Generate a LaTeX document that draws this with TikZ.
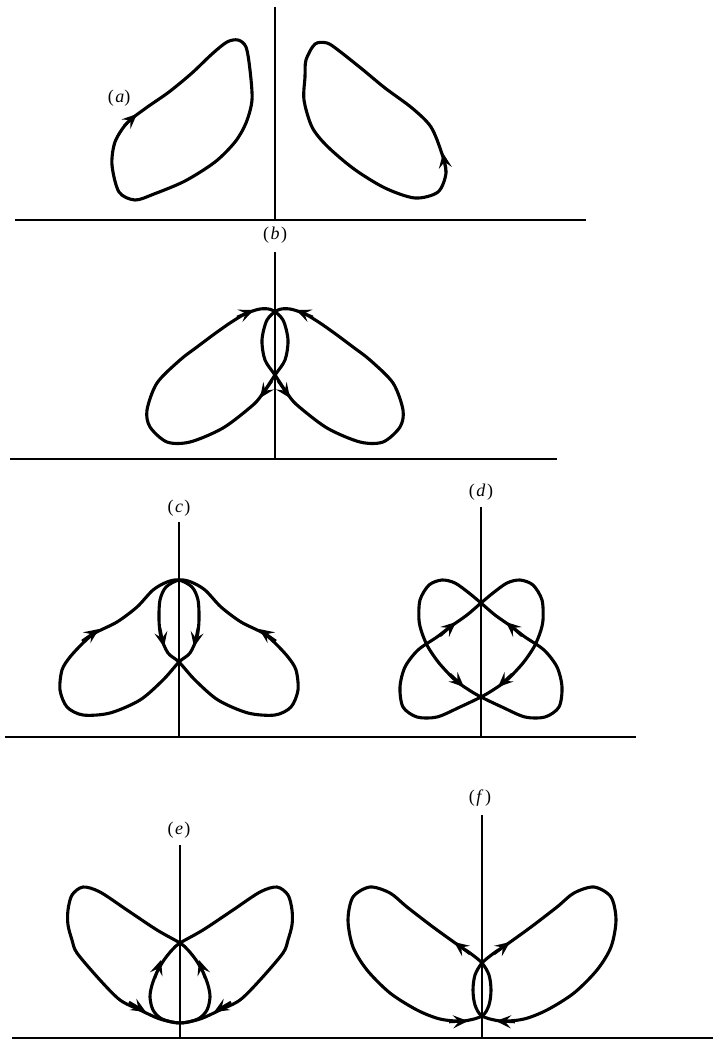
\documentclass[tikz,border=0pt]{standalone}
\usepackage{fontspec}
\setmainfont{Liberation Serif}
\usetikzlibrary{arrows.meta}
\begin{document}
\begin{tikzpicture}[x=1pt,y=-1pt,
  curve/.style={line width=3.1pt, line join=round},
  axis/.style={line width=1.6pt},
  base/.style={line width=2.2pt},
  arr/.style={line width=2.6pt, -{Stealth[length=15pt,width=13pt,inset=6pt]}},
  lab/.style={font=\fontsize{18}{20}\selectfont, inner sep=0pt}]
\useasboundingbox (0,0) rectangle (713,1044);
% ---------- (a)
\draw[base] (15,220) -- (586,220);
\draw[axis] (275,7) -- (275,220);
\draw[curve] plot[smooth cycle] coordinates {(135,200) (119,192) (112,165) (115,142) (127,123) (146,108) (169,92) (192,73) (212,54) (227,42) (238,40) (246,47) (250,70) (252,100) (246,123) (235,142) (215,162) (185,181) (154,194)};
\draw[curve] plot[smooth cycle] coordinates {(315,44) (306,60) (305,77) (304,100) (312,127) (327,146) (354,169) (385,188) (415,198) (438,192) (446,173) (442,154) (431,127) (412,108) (385,88) (362,69) (338,50) (327,43)};
\draw[arr] (124,126) -- (137,114);
\draw[arr] (446,172) -- (443,153);
\node[lab] (la) at (119,98) {(\kern1.5pt\textit{a})};
% ---------- (b)
\draw[base] (10,459) -- (557,459);
\draw[axis] (275,252) -- (275,459);
\foreach \s in {1,-1}{\begin{scope}[shift={(275,0)},xscale=\s]
 \draw[curve] plot[smooth cycle] coordinates {(0,375) (-12,393) (-22,405) (-52,428) (-85,442) (-108,442) (-125,427) (-128,410) (-118,383) (-95,360) (-78,347) (-62,335) (-45,323) (-30,314) (-15,309) (-3,310) (8,320) (13,340) (10,360)};
 \draw[arr] (-38,317) -- (-21,310);
 \draw[arr] (-3,381) -- (-15,398);
\end{scope}}
\node[lab] (lb) at (275,235) {(\kern1.5pt\textit{b}\kern1.5pt)};
% ---------- (c)
\draw[base] (5,737) -- (636,737);
\draw[axis] (179,522) -- (179,737);
\foreach \s in {1,-1}{\begin{scope}[shift={(179,0)},xscale=\s]
 \draw[curve] plot[smooth cycle] coordinates {(0,662) (-16,680) (-39,700) (-69,713) (-96,715) (-112,707) (-119,690) (-117,670) (-109,657) (-96,643) (-84,633) (-62,622) (-42,607) (-26,590) (-12,582) (0,580) (13,587) (19,600) (20,620) (18,637) (11,653)};
 \draw[arr] (-97,641) -- (-80,629);
 \draw[arr] (19,628) -- (15,647);
\end{scope}}
\node[lab] (lc) at (179,508) {(\kern1.5pt\textit{c}\kern1.5pt)};
% ---------- (d)
\draw[axis] (481,507) -- (481,737);
\foreach \s in {1,-1}{\begin{scope}[shift={(481,0)},xscale=\s]
 \draw[curve] plot[smooth cycle] coordinates {(0,697) (-21,707) (-44,717) (-64,717) (-78,707) (-81,687) (-76,667) (-63,650) (-44,637) (-31,627) (-14,615) (0,603) (12,593) (26,583) (39,580) (52,585) (61,600) (62,620) (59,633) (53,647) (42,663) (26,680) (12,690)};
 \draw[arr] (-41,636) -- (-25,622);
 \draw[arr] (31,674) -- (17,687);
\end{scope}}
\node[lab] (ld) at (481,492) {(\kern1.5pt\textit{d}\kern1.5pt)};
% ---------- (e)
\draw[base] (12,1038) -- (713,1038);
\draw[axis] (180,845) -- (180,1038);
\foreach \s in {1,-1}{\begin{scope}[shift={(180,0)},xscale=\s]
 \draw[curve] plot[smooth cycle] coordinates {(0,1023) (18,1019) (27,1010) (30,997) (28,985) (23,972) (16,960) (8,950) (0,943) (-23,930) (-53,910) (-80,892) (-97,887) (-108,895) (-112,910) (-112,925) (-108,940) (-103,953) (-80,980) (-60,1000) (-40,1010) (-20,1019)};
 \draw[arr] (-51,1002) -- (-34,1012);
 \draw[arr] (25,978) -- (19,960);
\end{scope}}
\node[lab] (le) at (179,830) {(\kern1.5pt\textit{e}\kern1.5pt)};
% ---------- (f)
\draw[axis] (482,815) -- (482,1038);
\foreach \s in {1,-1}{\begin{scope}[shift={(482,0)},xscale=\s]
 \draw[curve] plot[smooth cycle] coordinates {(0,1016) (7,1005) (9,990) (7,975) (0,963) (-12,953) (-24,945) (-49,927) (-75,907) (-92,893) (-112,887) (-129,897) (-134,920) (-129,947) (-115,970) (-92,993) (-65,1010) (-42,1019) (-19,1021)};
 \draw[arr] (-12,954) -- (-28,942);
 \draw[arr] (-33,1022) -- (-14,1021);
\end{scope}}
\node[lab] (lf) at (480,798) {(\kern1.5pt\textit{f}\kern1.5pt)};
\end{tikzpicture}
\end{document}
